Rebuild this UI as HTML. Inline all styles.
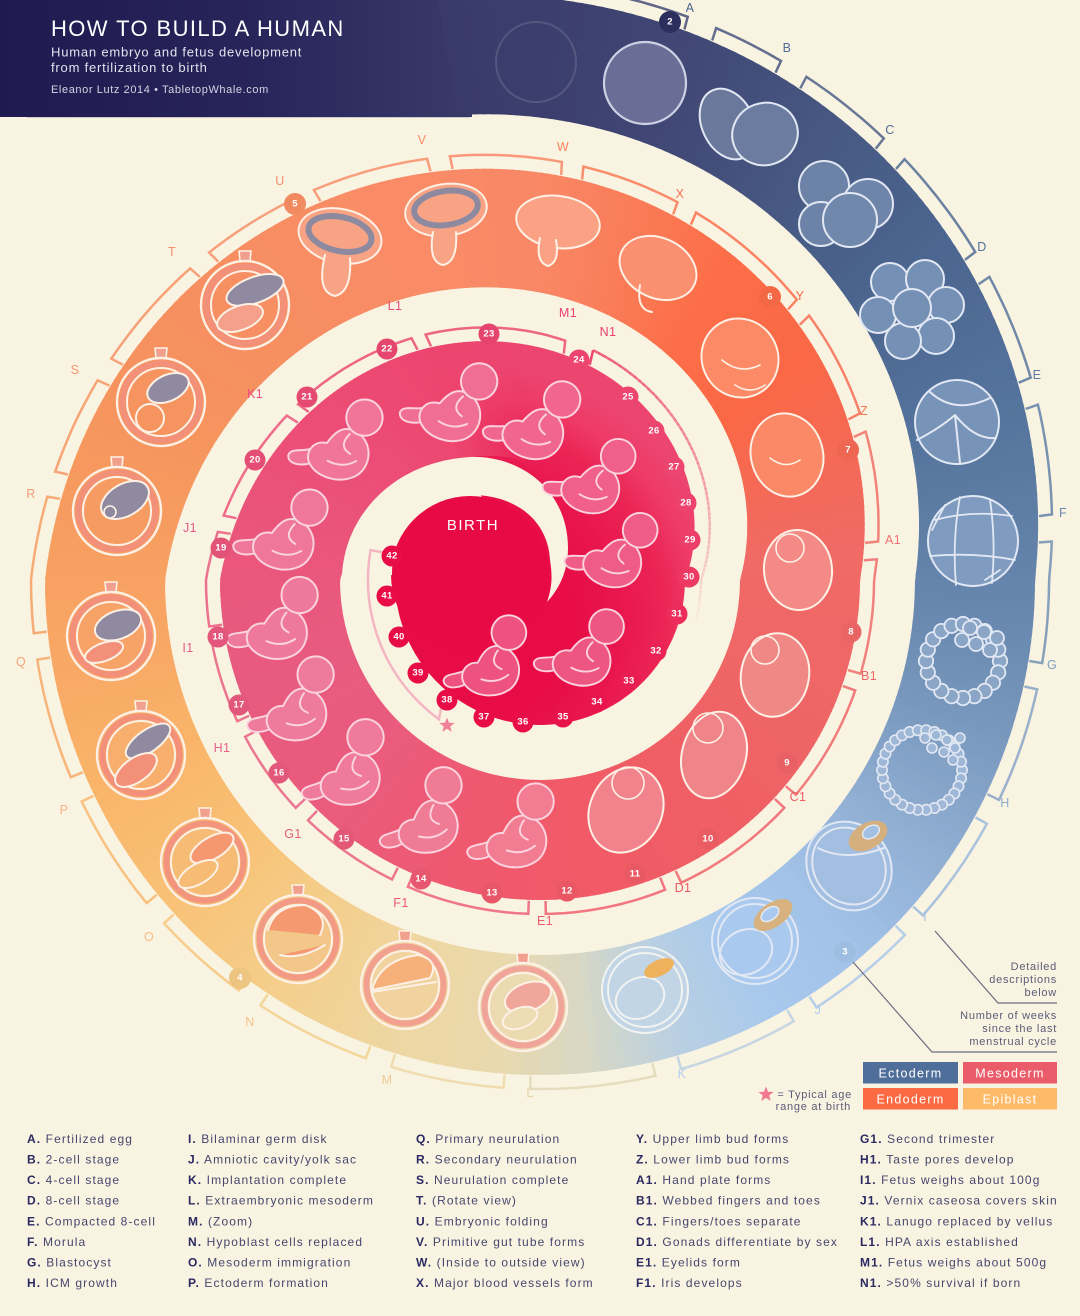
<!DOCTYPE html>
<html><head><meta charset="utf-8">
<style>
html,body{margin:0;padding:0;background:#f9f3e1;}
svg{display:block;}
text{font-family:"Liberation Sans",sans-serif;}
.lab{font-size:12.5px;text-anchor:middle;dominant-baseline:central;letter-spacing:0.4px;}
.wk{font-size:9.5px;font-weight:bold;fill:#fff;text-anchor:middle;dominant-baseline:central;letter-spacing:0.3px;}
.li{font-size:12px;letter-spacing:1.1px;fill:#46466e;}
.b{font-weight:bold;fill:#2a2962;}
.note{font-size:11px;letter-spacing:0.75px;fill:#5c5c78;text-anchor:end;}
.lg{font-size:12.5px;letter-spacing:1.3px;fill:#fff;text-anchor:middle;}
</style></head><body>
<svg width="1080" height="1316" viewBox="0 0 1080 1316" xmlns="http://www.w3.org/2000/svg">
<defs>
 <linearGradient id="hdr" x1="0" y1="0" x2="1" y2="0">
  <stop offset="0" stop-color="#1f1a50"/>
  <stop offset="0.55" stop-color="#28255a"/>
  <stop offset="1" stop-color="#393a6a"/>
 </linearGradient>
 <radialGradient id="rg" gradientUnits="userSpaceOnUse" cx="470" cy="620" r="300">
  <stop offset="0" stop-color="#e80a45"/>
  <stop offset="0.35" stop-color="#e80d47"/>
  <stop offset="0.5" stop-color="#e9164e"/>
  <stop offset="0.65" stop-color="#eb2556"/>
  <stop offset="0.75" stop-color="#ee3a66"/>
  <stop offset="0.85" stop-color="#ec4570"/>
  <stop offset="1" stop-color="#ec4670"/>
 </radialGradient>
</defs>
<rect width="1080" height="1316" fill="#f9f3e1"/>
<rect x="0" y="0" width="472" height="117" fill="url(#hdr)"/>
<line x1="27" y1="117.5" x2="470" y2="117.5" stroke="#cfcac6" stroke-width="1"/>
<path id="crim" fill="url(#rg)"/>
<g id="band"></g>
<circle cx="470" cy="575" r="79" fill="#e80a45"/>
<path d="M342,580 C342,520 390,462 470,457 C520,455 568,490 568,548 C568,570 560,588 547,602 C553,585 552,573 550,560 C548,520 515,495 472,495 C425,495 392,525 392,575 Z" fill="#f9f3e1"/>
<g id="brk" fill="none" stroke-width="2.5"></g>
<g id="emb"></g>
<g id="mk"></g>

<text x="51" y="36" font-size="22" letter-spacing="1.4" fill="#ffffff">HOW TO BUILD A HUMAN</text>
<text x="51" y="56.5" font-size="13" letter-spacing="0.8" fill="#e4e2ee">Human embryo and fetus development</text>
<text x="51" y="72" font-size="13" letter-spacing="0.8" fill="#e4e2ee">from fertilization to birth</text>
<text x="51" y="93" font-size="11" letter-spacing="0.6" fill="#d6d4e4">Eleanor Lutz 2014 • TabletopWhale.com</text>

<g class="lab">
<text class="lab" x="690" y="8" fill="#4c6590">A</text>
<text class="lab" x="787" y="48" fill="#4f6c98">B</text>
<text class="lab" x="890" y="130" fill="#4f6c98">C</text>
<text class="lab" x="982" y="247" fill="#52709c">D</text>
<text class="lab" x="1037" y="375" fill="#5a7aa5">E</text>
<text class="lab" x="1063" y="513" fill="#6a88b0">F</text>
<text class="lab" x="1052" y="665" fill="#7e9cc2">G</text>
<text class="lab" x="1005" y="803" fill="#8eacd0">H</text>
<text class="lab" x="925" y="917" fill="#a3c0e2">I</text>
<text class="lab" x="818" y="1010" fill="#abcaee">J</text>
<text class="lab" x="682" y="1074" fill="#b3d0ee">K</text>
<text class="lab" x="530" y="1093" fill="#e6d3a8">L</text>
<text class="lab" x="387" y="1080" fill="#edcc98">M</text>
<text class="lab" x="250" y="1022" fill="#f4c48e">N</text>
<text class="lab" x="149" y="937" fill="#f7bd86">O</text>
<text class="lab" x="64" y="810" fill="#f7b184">P</text>
<text class="lab" x="21" y="662" fill="#f6a57c">Q</text>
<text class="lab" x="31" y="494" fill="#f59c78">R</text>
<text class="lab" x="75" y="370" fill="#f59474">S</text>
<text class="lab" x="172" y="252" fill="#f6906e">T</text>
<text class="lab" x="280" y="181" fill="#f78e6e">U</text>
<text class="lab" x="422" y="140" fill="#f98a66">V</text>
<text class="lab" x="563" y="147" fill="#fa8460">W</text>
<text class="lab" x="680" y="194" fill="#fb7250">X</text>
<text class="lab" x="800" y="296" fill="#fa6a48">Y</text>
<text class="lab" x="864" y="411" fill="#f6744f">Z</text>
<text class="lab" x="893" y="540" fill="#f07272">A1</text>
<text class="lab" x="869" y="676" fill="#ec6868">B1</text>
<text class="lab" x="798" y="797" fill="#ec5e64">C1</text>
<text class="lab" x="683" y="888" fill="#ee5a62">D1</text>
<text class="lab" x="545" y="921" fill="#ef5a6a">E1</text>
<text class="lab" x="401" y="903" fill="#ec5a74">F1</text>
<text class="lab" x="293" y="834" fill="#e65d80">G1</text>
<text class="lab" x="222" y="748" fill="#e5608a">H1</text>
<text class="lab" x="188" y="648" fill="#e45c85">I1</text>
<text class="lab" x="190" y="528" fill="#e8598a">J1</text>
<text class="lab" x="255" y="394" fill="#ea5282">K1</text>
<text class="lab" x="395" y="306" fill="#ea4a7a">L1</text>
<text class="lab" x="568" y="313" fill="#ec4274">M1</text>
<text class="lab" x="608" y="332" fill="#ec3e6e">N1</text>
</g>

<g>
<text class="wk" x="670" y="22">2</text>
<text class="wk" x="845" y="952">3</text>
<text class="wk" x="240" y="978">4</text>
<text class="wk" x="295" y="204">5</text>
<text class="wk" x="770" y="297">6</text>
<text class="wk" x="848" y="450">7</text>
<text class="wk" x="851" y="632">8</text>
<text class="wk" x="787" y="763">9</text>
<text class="wk" x="708" y="839">10</text>
<text class="wk" x="635" y="874">11</text>
<text class="wk" x="567" y="891">12</text>
<text class="wk" x="492" y="893">13</text>
<text class="wk" x="421" y="879">14</text>
<text class="wk" x="344" y="839">15</text>
<text class="wk" x="279" y="773">16</text>
<text class="wk" x="239" y="705">17</text>
<text class="wk" x="218" y="637">18</text>
<text class="wk" x="221" y="548">19</text>
<text class="wk" x="255" y="460">20</text>
<text class="wk" x="307" y="397">21</text>
<text class="wk" x="387" y="349">22</text>
<text class="wk" x="489" y="334">23</text>
<text class="wk" x="579" y="360">24</text>
<text class="wk" x="628" y="397">25</text>
<text class="wk" x="654" y="431">26</text>
<text class="wk" x="674" y="467">27</text>
<text class="wk" x="686" y="503">28</text>
<text class="wk" x="690" y="540">29</text>
<text class="wk" x="689" y="577">30</text>
<text class="wk" x="677" y="614">31</text>
<text class="wk" x="656" y="651">32</text>
<text class="wk" x="629" y="681">33</text>
<text class="wk" x="597" y="702">34</text>
<text class="wk" x="563" y="717">35</text>
<text class="wk" x="523" y="722">36</text>
<text class="wk" x="484" y="717">37</text>
<text class="wk" x="447" y="700">38</text>
<text class="wk" x="418" y="673">39</text>
<text class="wk" x="399" y="637">40</text>
<text class="wk" x="387" y="596">41</text>
<text class="wk" x="392" y="556">42</text>
</g>

<text x="473" y="530" font-size="15" letter-spacing="1.5" fill="#ffffff" text-anchor="middle">BIRTH</text>

<polygon points="447,717.5 449,722.8 454.6,723 450.2,726.5 451.7,731.9 447,728.8 442.3,731.9 443.8,726.5 439.4,723 445,722.8" fill="#ef8199"/>

<path d="M935,931 L998,1003 L1057,1003" fill="none" stroke="#6b6b82" stroke-width="1.2"/>
<path d="M853,962 L932,1052 L1057,1052" fill="none" stroke="#6b6b82" stroke-width="1.2"/>
<text class="note" x="1057" y="970">Detailed</text>
<text class="note" x="1057" y="983">descriptions</text>
<text class="note" x="1057" y="996">below</text>
<text class="note" x="1057" y="1019">Number of weeks</text>
<text class="note" x="1057" y="1032">since the last</text>
<text class="note" x="1057" y="1045">menstrual cycle</text>

<rect x="863" y="1062" width="95" height="21.5" fill="#4f6f9a"/>
<rect x="963" y="1062" width="94" height="21.5" fill="#ea5c69"/>
<rect x="863" y="1088" width="95" height="21.5" fill="#fb6a42"/>
<rect x="963" y="1088" width="94" height="21.5" fill="#fdbb6a"/>
<text class="lg" x="910.5" y="1077.5">Ectoderm</text>
<text class="lg" x="1010" y="1077.5">Mesoderm</text>
<text class="lg" x="910.5" y="1103.5">Endoderm</text>
<text class="lg" x="1010" y="1103.5">Epiblast</text>
<polygon points="766,1086.5 768,1091.8 773.6,1092 769.2,1095.5 770.7,1100.9 766,1097.8 761.3,1100.9 762.8,1095.5 758.4,1092 764,1091.8" fill="#f07890"/>
<text class="note" x="852" y="1098">= Typical age</text>
<text class="note" x="851" y="1110">range at birth</text>

<g class="li">
<text class="li" x="27" y="1143"><tspan class="b">A.</tspan> Fertilized egg</text>
<text class="li" x="27" y="1163.6"><tspan class="b">B.</tspan> 2-cell stage</text>
<text class="li" x="27" y="1184.1"><tspan class="b">C.</tspan> 4-cell stage</text>
<text class="li" x="27" y="1204.7"><tspan class="b">D.</tspan> 8-cell stage</text>
<text class="li" x="27" y="1225.3"><tspan class="b">E.</tspan> Compacted 8-cell</text>
<text class="li" x="27" y="1245.9"><tspan class="b">F.</tspan> Morula</text>
<text class="li" x="27" y="1266.4"><tspan class="b">G.</tspan> Blastocyst</text>
<text class="li" x="27" y="1287"><tspan class="b">H.</tspan> ICM growth</text>

<text class="li" x="188" y="1143"><tspan class="b">I.</tspan>  Bilaminar germ disk</text>
<text class="li" x="188" y="1163.6"><tspan class="b">J.</tspan> Amniotic cavity/yolk sac</text>
<text class="li" x="188" y="1184.1"><tspan class="b">K.</tspan> Implantation complete</text>
<text class="li" x="188" y="1204.7"><tspan class="b">L.</tspan> Extraembryonic mesoderm</text>
<text class="li" x="188" y="1225.3"><tspan class="b">M.</tspan> (Zoom)</text>
<text class="li" x="188" y="1245.9"><tspan class="b">N.</tspan> Hypoblast cells replaced</text>
<text class="li" x="188" y="1266.4"><tspan class="b">O.</tspan> Mesoderm immigration</text>
<text class="li" x="188" y="1287"><tspan class="b">P.</tspan> Ectoderm formation</text>

<text class="li" x="416" y="1143"><tspan class="b">Q.</tspan> Primary neurulation</text>
<text class="li" x="416" y="1163.6"><tspan class="b">R.</tspan> Secondary neurulation</text>
<text class="li" x="416" y="1184.1"><tspan class="b">S.</tspan> Neurulation complete</text>
<text class="li" x="416" y="1204.7"><tspan class="b">T.</tspan> (Rotate view)</text>
<text class="li" x="416" y="1225.3"><tspan class="b">U.</tspan> Embryonic folding</text>
<text class="li" x="416" y="1245.9"><tspan class="b">V.</tspan> Primitive gut tube forms</text>
<text class="li" x="416" y="1266.4"><tspan class="b">W.</tspan> (Inside to outside view)</text>
<text class="li" x="416" y="1287"><tspan class="b">X.</tspan> Major blood vessels form</text>

<text class="li" x="636" y="1143"><tspan class="b">Y.</tspan> Upper limb bud forms</text>
<text class="li" x="636" y="1163.6"><tspan class="b">Z.</tspan> Lower limb bud forms</text>
<text class="li" x="636" y="1184.1"><tspan class="b">A1.</tspan> Hand plate forms</text>
<text class="li" x="636" y="1204.7"><tspan class="b">B1.</tspan> Webbed fingers and toes</text>
<text class="li" x="636" y="1225.3"><tspan class="b">C1.</tspan> Fingers/toes separate</text>
<text class="li" x="636" y="1245.9"><tspan class="b">D1.</tspan> Gonads differentiate by sex</text>
<text class="li" x="636" y="1266.4"><tspan class="b">E1.</tspan> Eyelids form</text>
<text class="li" x="636" y="1287"><tspan class="b">F1.</tspan> Iris develops</text>

<text class="li" x="860" y="1143"><tspan class="b">G1.</tspan> Second trimester</text>
<text class="li" x="860" y="1163.6"><tspan class="b">H1.</tspan> Taste pores develop</text>
<text class="li" x="860" y="1184.1"><tspan class="b">I1.</tspan> Fetus weighs about 100g</text>
<text class="li" x="860" y="1204.7"><tspan class="b">J1.</tspan> Vernix caseosa covers skin</text>
<text class="li" x="860" y="1225.3"><tspan class="b">K1.</tspan> Lanugo replaced by vellus</text>
<text class="li" x="860" y="1245.9"><tspan class="b">L1.</tspan> HPA axis established</text>
<text class="li" x="860" y="1266.4"><tspan class="b">M1.</tspan> Fetus weighs about 500g</text>
<text class="li" x="860" y="1287"><tspan class="b">N1.</tspan> &gt;50% survival if born</text>
</g>
</svg>

<script>
(function(){
var cx=540, cy=580, W=120;
function rout(p){var k=Math.floor(p/360), q=p-360*k, R=495-175*k; return q<=180?R:R-(q-180)*175/180;}
function pt(p,r){var a=p*Math.PI/180; return [cx+r*Math.cos(a), cy+r*Math.sin(a)];}
function f(a){return a[0].toFixed(1)+','+a[1].toFixed(1);}
var stops=[[-100,'#393a6a'],[-85,'#3d416f'],[-70,'#424b78'],[-55,'#475a84'],[-40,'#4b668f'],[-25,'#52709a'],[-10,'#5c7ca3'],[5,'#6888af'],[20,'#7b9abf'],[35,'#91afd3'],[50,'#a2c2e8'],[62,'#a8c9ec'],[74,'#bad0e2'],[84,'#d6d7c6'],[95,'#e9d9ae'],[110,'#efd6a0'],[125,'#f4cd88'],[140,'#f8c175'],[155,'#f9b56a'],[170,'#f8a865'],[188,'#f79c60'],[205,'#f6935e'],[225,'#f78e62'],[250,'#f98c67'],[270,'#f98866'],[285,'#fa7c58'],[300,'#fc6e48'],[320,'#fa6846'],[340,'#f46a58'],[355,'#f06a66'],[380,'#ef6767'],[410,'#ef6065'],[440,'#f15a66'],[465,'#ef596f'],[490,'#ea5b7c'],[520,'#e85b80'],[550,'#ea557b'],[575,'#ec4d76'],[605,'#ec466f'],[640,'#ec4670']];
function h2r(h){return [parseInt(h.substr(1,2),16),parseInt(h.substr(3,2),16),parseInt(h.substr(5,2),16)];}
function interp(ST,p){
 if(p<=ST[0][0]) return ST[0][1];
 for(var i=0;i<ST.length-1;i++){ if(p<=ST[i+1][0]){var t=(p-ST[i][0])/(ST[i+1][0]-ST[i][0]); return ST[i][1].map(function(v,j){return v+(ST[i+1][1][j]-v)*t;});} }
 return ST[ST.length-1][1];
}
var ST=stops.map(function(s){return [s[0],h2r(s[1])];});
var RS=[[0,'#e80a45'],[0.35,'#e80d47'],[0.5,'#e9164e'],[0.65,'#eb2556'],[0.75,'#ee3a66'],[0.85,'#ec4570'],[1,'#ec4670']].map(function(s){return [s[0],h2r(s[1])];});
function col(p){return interp(ST,p);}
function radCol(x,y){var d=Math.sqrt((x-470)*(x-470)+(y-620)*(y-620))/300; return interp(RS,Math.min(1,d));}
function mix(a,b,t){return a.map(function(v,j){return v+(b[j]-v)*t;});}
function rgb(c){return 'rgb('+c.map(function(v){return Math.round(v);}).join(',')+')';}
var CREAM=[249,243,225];

/* crimson inner region */
var cd='M'+f(pt(595,rout(595)));
for(var p=596;p<=905;p+=1) cd+=' L'+f(pt(p,rout(p)));
cd+=' L'+cx+','+cy+' Z';
document.getElementById('crim').setAttribute('d',cd);

/* band */
var s='';
for(var p=-100;p<625;p+=1){
 var p2=Math.min(p+1.45,626);
 var r1=rout(p), r2=rout(p2);
 var op=p>595?Math.max(0,(625-p)/30):1;
 s+='<polygon points="'+f(pt(p,r1))+' '+f(pt(p2,r2))+' '+f(pt(p2,r2-W))+' '+f(pt(p,r1-W))+'" fill="'+rgb(col(p+0.7))+'"'+(op<1?' fill-opacity="'+op.toFixed(2)+'"':'')+'/>';
}
document.getElementById('band').innerHTML=s;

/* brackets */
var LB=[['A',-75.3],['B',-65.1],['C',-52.1],['D',-37],['E',-22.4],['F',-7.3],['G',9.4],['H',25.6],['I',41.2],['J',57.1],['K',73.9],['L',91.1],['M',107],['N',123.3],['O',137.6],['P',154.2],['Q',171],['R',189.6],['S',204.3],['T',221.7],['U',236.9],['V',255],['W',273],['X',290],['Y',312.5],['Z',332.5],['A1',353.5],['B1',376.3],['C1',400],['D1',425],['E1',449],['F1',473.3],['G1',494],['H1',512],['I1',529],['J1',548.5],['K1',573],['L1',602],['M1',636]];
var b='', prev=-92;
LB.forEach(function(l){
 var pe=l[1], ps=prev+3; prev=pe;
 var c=rgb(mix(col(Math.min(pe,620)),CREAM,0.18));
 var d='M'+f(pt(ps,rout(ps)+1))+' L'+f(pt(ps,rout(ps)+14));
 for(var q=ps+1;q<pe;q+=1) d+=' L'+f(pt(q,rout(q)+14));
 d+=' L'+f(pt(pe,rout(pe)+14))+' L'+f(pt(pe,rout(pe)+1));
 b+='<path d="'+d+'" stroke="'+c+'"/>';
});
b+='<path d="M'+f(pt(643,rout(643)+1))+' L'+f(pt(643,rout(643)+16))+'" stroke="rgb(236,70,112)"/>';
for(var q=643;q<735;q+=1.5){
 var o=Math.max(0,1-(q-643)/92);
 b+='<path d="M'+f(pt(q,rout(q)+16))+' L'+f(pt(q+1.7,rout(q+1.7)+16))+'" stroke="rgba(236,70,112,'+(o*0.85).toFixed(2)+')"/>';
}
var d2='M'+f(pt(190,158))+' L'+f(pt(190,172));
for(var q=189;q>=127;q-=1) d2+=' L'+f(pt(q,172));
d2+=' L'+f(pt(126,172))+' L'+f(pt(128,160));
b+='<path d="'+d2+'" stroke="#f4b6c3"/>';
document.getElementById('brk').innerHTML=b;

/* embryos */
var e='';
function circ(x,y,r,fl,st,w){e+='<circle cx="'+x+'" cy="'+y+'" r="'+r+'" fill="'+fl+'" stroke="'+st+'" stroke-width="'+(w||2)+'"/>';}
function ell(x,y,rx,ry,rot,fl,st,w){e+='<ellipse cx="'+x+'" cy="'+y+'" rx="'+rx+'" ry="'+ry+'" transform="rotate('+rot+' '+x+' '+y+')" fill="'+fl+'" stroke="'+st+'" stroke-width="'+(w||2)+'"/>';}
function path(d,fl,st,w){e+='<path d="'+d+'" fill="'+fl+'" stroke="'+st+'" stroke-width="'+(w||2)+'" stroke-linecap="round" stroke-linejoin="round"/>';}
function ring(x,y,R,n,r,fl,st,w){for(var i=0;i<n;i++){var a=i*2*Math.PI/n; circ((x+R*Math.cos(a)).toFixed(1),(y+R*Math.sin(a)).toFixed(1),r,fl,st,w);}}
var W1='#e2e8f3';
circ(536,62,40,'none','rgba(255,255,255,0.13)',2);
circ(645,83,41,'#6a6e96','#cdd1e4',2.2);
ell(728,124,26,37,-25,'#6a789c',W1); ell(765,134,33,31,-20,'#6b7ca0',W1);
circ(824,186,25,'#6c82a6',W1); circ(868,204,25,'#6e85a9',W1); circ(821,224,22,'#6c82a6',W1); circ(850,220,27,'#7088ab',W1);
[[890,282,19],[925,279,19],[946,305,18],[936,336,18],[903,341,18],[878,315,18],[912,308,19]].forEach(function(c){circ(c[0],c[1],c[2],'#7590b5',W1);});
circ(957,422,42,'#7893b8',W1);
path('M930,392 Q955,415 990,398 M955,415 L960,463 M917,440 Q940,428 955,415 M955,415 Q975,440 996,438','none',W1);
circ(973,541,45,'#7f9bbf',W1);
path('M935,520 Q970,510 1012,516 M930,556 Q975,552 1015,560 M960,497 Q952,540 956,585 M990,500 Q996,540 992,583 M945,505 L932,530 M1000,570 L985,580','none',W1,1.8);
ring(963,661,37,20,7.2,'#8aa5c6',W1,1.8);
[[962,640],[976,644],[990,650],[970,628],[984,632],[997,638]].forEach(function(c){circ(c[0],c[1],7,'#8aa5c6',W1,1.8);});
ring(922,770,40,30,5.2,'#9fb7d6',W1,1.6);
[[925,738],[936,735],[947,740],[955,748],[932,748],[944,752],[953,760],[960,738]].forEach(function(c){circ(c[0],c[1],5,'#9fb7d6',W1,1.6);});
ell(849,866,41,46,-35,'#a2bfe2',W1); ell(849,866,35,40,-35,'none',W1);
ell(868,836,21,13,-30,'#d5b07e','none'); ell(871,832,9,6,-30,'#a2c0e2',W1,1.5);
path('M818,848 Q845,862 884,848','none',W1);
circ(755,941,43,'#a9caee',W1); circ(755,941,37,'none',W1);
ell(746,952,27,22,-25,'none',W1); ell(773,915,22,12,-35,'#d7b27f','none'); ell(770,914,10,6,-35,'#a9caee',W1,1.5);
circ(645,990,43,'#c2d5e6','#f1f3f0'); circ(645,990,37,'none','#f1f3f0');
ell(640,998,25,20,-25,'none','#f1f3f0'); ell(659,968,16,8,-25,'#efb25c','none');
var S='#fdf1e6';
function disc(x,y,fill,ringc){
 path('M'+(x-5)+','+(y-44)+' L'+(x-6)+','+(y-54)+' L'+(x+6)+','+(y-54)+' L'+(x+5)+','+(y-44),'#f2a08e',S,1.6);
 circ(x,y,44,fill,S,2.4); circ(x,y,38.5,'none',ringc,6); circ(x,y,34,'none',S,2);
}
disc(523,1007,'#ecdab0','#f0a49a');
ell(528,997,24,14,-20,'#f1a69c',S); ell(520,1018,18,10,-20,'#eedcb4',S);
disc(405,985,'#f0d39e','#f2a090');
path('M372,990 Q380,960 418,955 Q440,960 430,978 Z','#f6b07a',S); path('M372,992 L436,982','none',S);
disc(298,939,'#f3c78a','#f39a86');
path('M268,930 Q275,905 305,905 Q330,915 320,935 M280,955 Q300,960 325,945','#f59a70',S);
disc(205,862,'#f6bb74','#f3957e');
ell(212,848,24,11,-30,'#f59872',S); ell(198,874,22,10,-30,'#f6bb74',S);
disc(141,755,'#f8ae6c','#f2907a');
ell(148,741,26,11,-35,'#8f8aa0',S); ell(136,770,24,12,-35,'#f2907a',S);
disc(111,636,'#f7a267','#f2907a');
ell(118,625,24,14,-20,'#8f8aa0',S); ell(104,652,20,9,-20,'#f2907a',S);
disc(117,511,'#f69c62','#f2907a');
ell(125,500,26,16,-30,'#8f8aa0',S); circ(110,512,6,'#8f8aa0',S,1.6);
disc(161,402,'#f6945f','#f2907a');
ell(168,388,22,13,-25,'#8f8aa0',S); circ(150,418,14,'none',S);
disc(245,305,'#f78f63','#f2907a');
ell(255,290,30,13,-20,'#8f8aa0',S); ell(240,318,24,12,-20,'#f4a08a',S);
ell(340,236,42,27,12,'#f9a385',S); ell(340,234,32,17,12,'none','#8d8aa0',6);
path('M325,255 Q316,292 335,296 Q352,292 350,258','#f9a385',S);
ell(446,210,41,26,-8,'#f9a385',S); ell(446,208,32,17,-8,'none','#8d8aa0',6);
path('M433,232 Q428,262 443,265 Q458,262 456,232','#f9a385',S);
ell(558,222,42,26,8,'#fba285',S); path('M540,238 Q535,262 548,266 Q560,262 556,240','#fba285',S);
ell(658,268,40,30,25,'#fb9070',S); path('M640,285 Q636,310 652,312','none',S);
ell(740,358,38,40,-30,'#fd8a66',S); path('M722,360 Q740,375 760,365 M735,385 Q750,395 765,385','none',S,1.6);
ell(787,455,36,42,-15,'#fb8866',S); path('M770,458 Q785,470 800,460','none',S,1.6);
ell(798,570,34,40,-5,'#f38a86',S); circ(790,548,14,'none',S,1.6);
ell(775,675,34,42,10,'#f08886',S); circ(765,650,14,'none',S,1.6);
ell(714,755,32,44,15,'#f08589',S); circ(708,728,15,'none',S,1.6);
ell(626,810,36,44,25,'#f2838c',S); circ(628,783,16,'none',S,1.6);
function fetus(x,y,sc,rot,fl){
 e+='<g transform="translate('+x+' '+y+') rotate('+rot+') scale('+sc+')" fill="'+fl+'" stroke="#fbd3de" stroke-width="1.8" stroke-linecap="round" stroke-linejoin="round">'+
 '<path d="M-26,24 C-38,30 -50,28 -50,20 C-48,13 -38,16 -28,12 Z"/>'+
 '<path d="M6,-8 C26,-2 28,24 12,34 C-2,42 -22,38 -30,26 C-36,16 -28,4 -16,6 C-10,-4 -4,-10 6,-8 Z"/>'+
 '<circle cx="16" cy="-20" r="16.5"/>'+
 '<path d="M4,-4 Q-6,8 6,14 M-14,22 Q0,28 12,20" fill="none"/></g>';
}
fetus(520,825,1.1,-5,'#f27d92'); fetus(430,810,1.1,-10,'#f07b94'); fetus(352,762,1.1,-10,'#ef7a9a');
fetus(300,698,1.1,-5,'#ee7a9c'); fetus(282,617,1.1,0,'#ee799c'); fetus(290,528,1.1,5,'#ef779a');
fetus(345,438,1.1,5,'#f07596'); fetus(458,400,1.1,10,'#f06e92'); fetus(541,418,1.1,10,'#f0668c');
fetus(598,474,1.05,10,'#f0608a'); fetus(620,548,1.05,10,'#ef5c86'); fetus(588,646,1.05,5,'#ee5682'); fetus(494,655,1.05,-5,'#ee527e');
document.getElementById('emb').innerHTML=e;

var MK=[[2,670,22,-1],[3,845,952,0],[4,240,978,0],[5,295,204,0],[6,770,297,0],[7,848,450,0],[8,851,632,1],[9,787,763,1],[10,708,839,1],[11,635,874,1],[12,567,891,1],[13,492,893,1],[14,421,879,1],[15,344,839,1],[16,279,773,1],[17,239,705,1],[18,218,637,1],[19,221,548,1],[20,255,460,1],[21,307,397,1],[22,387,349,1],[23,489,334,1],[24,579,360,1],[25,628,397,1],[26,654,431,1],[27,674,467,1],[28,686,503,1],[29,690,540,1],[30,689,577,1],[31,677,614,2],[32,656,651,2],[33,629,681,2],[34,597,702,2],[35,563,717,2],[36,523,722,2],[37,484,717,2],[38,447,700,2],[39,418,673,2],[40,399,637,2],[41,387,596,2],[42,392,556,2]];
var m='';
MK.forEach(function(k){
 var ph=Math.atan2(k[2]-cy,k[1]-cx)*180/Math.PI; if(ph<0) ph+=360;
 var ps=ph+360*k[3];
 var c;
 if(k[0]==2) c='#2c2f5e';
 else if(k[0]>=24) c=rgb(radCol(k[1],k[2]));
 else c=rgb(mix(col(ps),[0,0,0],0.03));
 m+='<circle cx="'+k[1]+'" cy="'+k[2]+'" r="'+(k[0]<8?11:10.5)+'" fill="'+c+'"/>';
});
document.getElementById('mk').innerHTML=m;
})();
</script>
</body></html>
